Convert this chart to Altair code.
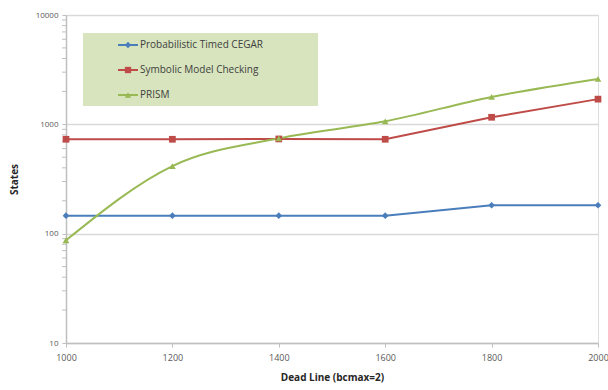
import altair as alt
import pandas as pd

deadlines = [1000, 1200, 1400, 1600, 1800, 2000]
cegar = [146, 146, 146, 146, 182, 182]
symbolic = [730, 730, 735, 730, 1160, 1700]
prism = [87, 415, 745, 1065, 1780, 2600]

series_names = ["Probabilistic Timed CEGAR", "Symbolic Model Checking", "PRISM"]
series_colors = ["#4a7ebb", "#be4b48", "#98b954"]
series_shapes = ["diamond", "square", "triangle-up"]

rows = []
for name, vals in zip(series_names, [cegar, symbolic, prism]):
    for d, v in zip(deadlines, vals):
        rows.append({"deadline": d, "states": v, "series": name})
df = pd.DataFrame(rows)

minor = pd.DataFrame({"states": [m * 10 ** e for e in range(1, 4) for m in range(2, 10)]})

x_scale = alt.Scale(domain=[1000, 2000], nice=False, zero=False)
y_scale = alt.Scale(type="log", domain=[10, 10000], nice=False)
color = alt.Color("series:N", scale=alt.Scale(domain=series_names, range=series_colors), legend=None)
shape = alt.Shape("series:N", scale=alt.Scale(domain=series_names, range=series_shapes), legend=None)

x_enc = alt.X(
    "deadline:Q", scale=x_scale,
    axis=alt.Axis(values=deadlines, format="d", title="Dead Line (bcmax=2)", grid=False,
                  labelFontSize=9, labelColor="#595959", titleFontSize=10,
                  titleFontWeight="bold", titleColor="#262626", titlePadding=10,
                  domainColor="#bfbfbf", domainWidth=1.5, tickColor="#bfbfbf",
                  tickSize=4, labelPadding=6, labelFlush=False,
                  labelFont="Open Sans", titleFont="Open Sans"),
)
y_enc = alt.Y(
    "states:Q", scale=y_scale,
    axis=alt.Axis(values=[10, 100, 1000, 10000], format="d", title="States",
                  grid=True, gridColor="#d9d9d9", gridWidth=1.5,
                  labelFontSize=8, labelColor="#595959", titleFontSize=10,
                  titleFontWeight="bold", titleColor="#262626", titlePadding=16,
                  domainColor="#bfbfbf", domainWidth=1.5, tickColor="#bfbfbf",
                  tickSize=4, labelPadding=4, labelFlush=False,
                  labelFont="Open Sans", titleFont="Open Sans"),
)

base = alt.Chart(df)
straight = base.transform_filter(alt.datum.series != "PRISM").mark_line(
    strokeWidth=2, interpolate="linear"
).encode(x=x_enc, y=y_enc, color=color, detail="series:N")
smooth = base.transform_filter(alt.datum.series == "PRISM").mark_line(
    strokeWidth=2, interpolate="monotone"
).encode(x=x_enc, y=y_enc, color=color)
points = base.mark_point(filled=True, size=45, opacity=1).encode(
    x=x_enc, y=y_enc, color=color, shape=shape
)

minor_ticks = alt.Chart(minor).mark_rule(color="#bfbfbf", strokeWidth=1).encode(
    x=alt.value(-4), x2=alt.value(0), y=y_enc
)

plot = alt.layer(minor_ticks, straight, smooth, points)

# Boxed legend with line + marker swatches
legend_df = pd.DataFrame({"series": series_names, "row": [0, 1, 2]})
leg_y = alt.Y("row:Q", scale=alt.Scale(domain=[0, 2], range=[30, 80]), axis=None)
legend_box = alt.Chart(pd.DataFrame({"a": [0]})).mark_rect(color="#d7e4bd").encode(
    x=alt.value(17), x2=alt.value(252), y=alt.value(18), y2=alt.value(91)
)
legend_lines = alt.Chart(legend_df).mark_rule(strokeWidth=2).encode(
    x=alt.value(52), x2=alt.value(72), y=leg_y, color=color
)
legend_marks = alt.Chart(legend_df).mark_point(filled=True, size=40, opacity=1).encode(
    x=alt.value(62), y=leg_y, color=color, shape=shape
)
legend_text = alt.Chart(legend_df).mark_text(
    align="left", baseline="middle", fontSize=10, color="#404040", font="Open Sans"
).encode(x=alt.value(74), y=leg_y, text="series:N")
legend = alt.layer(legend_box, legend_lines, legend_marks, legend_text)

chart = alt.layer(plot, legend).resolve_scale(y="independent").properties(
    width=532, height=328,
    autosize=alt.AutoSizeParams(type="none"),
    padding={"left": 66, "top": 15, "right": 10, "bottom": 47},
).configure_view(stroke=None).configure(background="white")

chart.save("out.html", embed_options={"renderer": "svg", "actions": False})
